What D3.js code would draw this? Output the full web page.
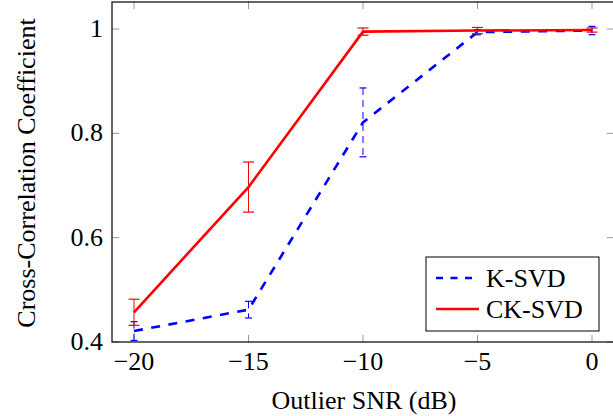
<!DOCTYPE html>
<meta charset="utf-8">
<html>
<head>
  <script src="https://d3js.org/d3.v7.min.js"></script>
  <style>
    body { margin: 0; background: #fff; }
  </style>
</head>
<body>
  <svg width="613" height="416"></svg>
  <script>
    // data
    const snr = [-20, -15, -10, -5, 0];
    const ksvd = [0.421, 0.462, 0.821, 0.994, 0.997];
    const ksvdErr = [0.018, 0.016, 0.066, 0.005, 0.008];
    const cksvd = [0.457, 0.697, 0.995, 0.997, 0.998];
    const cksvdErr = [0.025, 0.048, 0.007, 0.006, 0.004];
    const xTicks = [-20, -15, -10, -5, 0];
    const yTicks = [0.4, 0.6, 0.8, 1];

    const FONT = "'Liberation Serif'";
    const svg = d3.select("svg");
    const pLeft = 112, pRight = 614, pTop = 2, pBottom = 342;

    const x = d3.scaleLinear().domain([-20, 0]).range([134, 592]);
    const y = d3.scaleLinear().domain([0.4, 1]).range([pBottom, 29]);

    // ticks on all four sides, pointing inward
    const tick = svg.append("g").attr("stroke", "#999").attr("stroke-width", 1);
    xTicks.forEach(t => {
      tick.append("line").attr("x1", x(t)).attr("x2", x(t)).attr("y1", pBottom).attr("y2", pBottom - 7);
      tick.append("line").attr("x1", x(t)).attr("x2", x(t)).attr("y1", pTop).attr("y2", pTop + 7);
    });
    yTicks.forEach(t => {
      tick.append("line").attr("x1", pLeft).attr("x2", pLeft + 7).attr("y1", y(t)).attr("y2", y(t));
      tick.append("line").attr("x1", pRight).attr("x2", pRight - 7).attr("y1", y(t)).attr("y2", y(t));
    });

    svg.append("rect")
      .attr("x", pLeft).attr("y", pTop)
      .attr("width", pRight - pLeft).attr("height", pBottom - pTop)
      .attr("fill", "none").attr("stroke", "#000").attr("stroke-width", 1.2);

    svg.append("g").selectAll("text").data(xTicks).enter().append("text")
      .attr("x", d => x(d)).attr("y", pBottom + 28)
      .attr("text-anchor", "middle")
      .style("font-family", FONT).style("font-size", "26px")
      .text(d => d < 0 ? "\u2212" + Math.abs(d) : d);

    svg.append("g").selectAll("text").data(yTicks).enter().append("text")
      .attr("x", 103).attr("y", d => y(d) + 8)
      .attr("text-anchor", "end")
      .style("font-family", FONT).style("font-size", "26px")
      .text(d => d === 1 ? "1" : d.toFixed(1));

    svg.append("text")
      .attr("x", 364).attr("y", 409)
      .attr("text-anchor", "middle")
      .style("font-family", FONT).style("font-size", "26px")
      .text("Outlier SNR (dB)");

    svg.append("text")
      .attr("transform", "translate(35,173) rotate(-90)")
      .attr("text-anchor", "middle")
      .style("font-family", FONT).style("font-size", "26px")
      .text("Cross-Correlation Coefficient");

    const line = d3.line().x(d => x(d[0])).y(d => y(d[1]));

    function series(vals, errs, color, dash, cap) {
      const g = svg.append("g");
      g.append("path")
        .datum(snr.map((s, i) => [s, vals[i]]))
        .attr("d", line)
        .attr("fill", "none").attr("stroke", color)
        .attr("stroke-width", 2.6)
        .attr("stroke-dasharray", dash);
      snr.forEach((s, i) => {
        const cx = x(s), y1 = y(vals[i] + errs[i]), y2 = y(vals[i] - errs[i]);
        g.append("line").attr("x1", cx).attr("x2", cx).attr("y1", y1).attr("y2", y2)
          .attr("stroke", color).attr("stroke-width", 1).attr("stroke-dasharray", dash ? "7,5" : null);
        [y1, y2].forEach(yy => g.append("line")
          .attr("x1", cx - cap).attr("x2", cx + cap).attr("y1", yy).attr("y2", yy)
          .attr("stroke", color).attr("stroke-width", 1.2));
      });
    }
    series(ksvd, ksvdErr, "#0000ff", "9,8.5", 3.5);
    series(cksvd, cksvdErr, "#ff0000", null, 5.5);

    // legend
    const lg = svg.append("g");
    lg.append("rect").attr("x", 426).attr("y", 257).attr("width", 173).attr("height", 74)
      .attr("fill", "#fff").attr("stroke", "#000").attr("stroke-width", 1);
    const entries = [["K-SVD", "#0000ff", "7,7.5"], ["CK-SVD", "#ff0000", null]];
    entries.forEach((e, i) => {
      const yy = 278 + i * 31;
      lg.append("line").attr("x1", 436).attr("x2", 479).attr("y1", yy).attr("y2", yy)
        .attr("stroke", e[1]).attr("stroke-width", 2.6).attr("stroke-dasharray", e[2]);
      lg.append("text").attr("x", 486).attr("y", yy + 9)
        .style("font-family", FONT).style("font-size", "26px").text(e[0]);
    });
  </script>
</body>
</html>
